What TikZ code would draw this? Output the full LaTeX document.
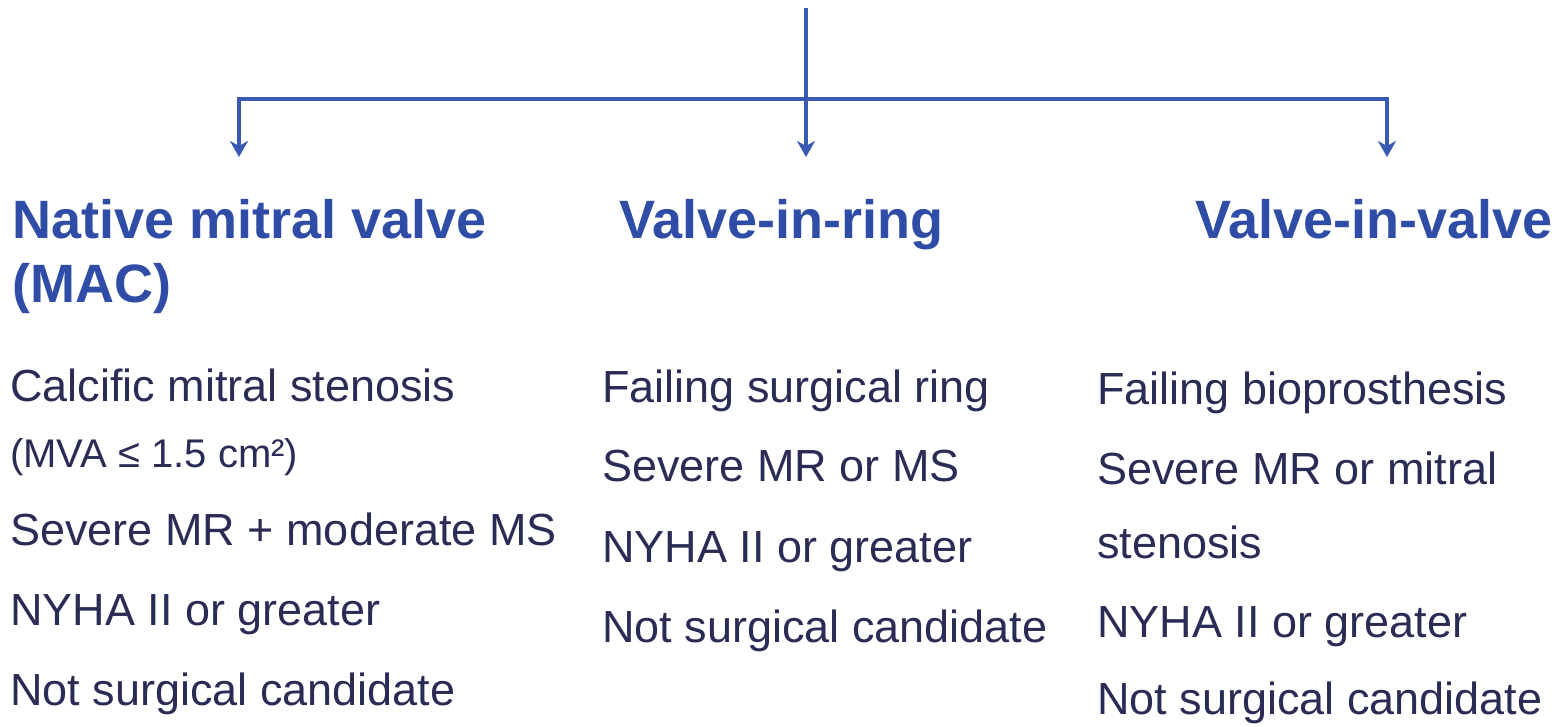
\documentclass[tikz,border=0pt]{standalone}
\usepackage{fontspec}
\setmainfont{Liberation Sans}
\usetikzlibrary{arrows.meta}
\definecolor{headblue}{HTML}{2F4DA6}
\definecolor{lineblue}{HTML}{3A5AB2}
\definecolor{bodytext}{HTML}{2A2C55}
\tikzset{
  heading/.style={anchor=base west, inner sep=0pt, text=headblue, font=\fontsize{54}{60}\selectfont\bfseries},
  bodyline/.style={anchor=base west, inner sep=0pt, text=bodytext, font=\fontsize{45}{54}\selectfont},
  smallline/.style={anchor=base west, inner sep=0pt, text=bodytext, font=\fontsize{40}{46}\selectfont},
  conn/.style={draw=lineblue, line width=3.5pt},
  arr/.style={conn, -{Stealth[length=16pt, width=18pt, inset=5pt]}}
}
\begin{document}
\begin{tikzpicture}[x=1pt,y=-1pt]
\useasboundingbox (0,0) rectangle (1556,727);
% connectors
\coordinate (top) at (806,8);
\coordinate (hub) at (806,99);
\coordinate (tipA) at (239,157);
\coordinate (tipB) at (806,157);
\coordinate (tipC) at (1387,157);
\draw[conn] (top) -- (hub);
\draw[arr] (hub) -| (tipA);
\draw[arr] (hub) -- (tipB);
\draw[arr] (hub) -| (tipC);
% headings
\node[heading] (hA1) at (12,239) {Native mitral valve};
\node[heading] (hA2) at (12,303) {(MAC)};
\node[heading] (hB) at (619,239) {Valve-in-ring};
\node[heading] (hC) at (1195,239) {Valve-in-valve};
% column 1
\node[bodyline] (a1) at (10,401) {Calcific mitral stenosis};
\node[smallline] (a2) at (10,467) {(MVA ≤ 1.5 cm²)};
\node[bodyline] (a3) at (10,545) {Severe MR + moderate MS};
\node[bodyline] (a4) at (10,625) {NYHA II or greater};
\node[bodyline] (a5) at (10,705) {Not surgical candidate};
% column 2
\node[bodyline] (b1) at (602,402) {Failing surgical ring};
\node[bodyline] (b2) at (602,481) {Severe MR or MS};
\node[bodyline] (b3) at (602,562) {NYHA II or greater};
\node[bodyline] (b4) at (602,642) {Not surgical candidate};
% column 3
\node[bodyline] (c1) at (1097,404) {Failing bioprosthesis};
\node[bodyline] (c2) at (1097,484) {Severe MR or mitral};
\node[bodyline] (c3) at (1097,558) {stenosis};
\node[bodyline] (c4) at (1097,637) {NYHA II or greater};
\node[bodyline] (c5) at (1097,714) {Not surgical candidate};
\end{tikzpicture}
\end{document}
